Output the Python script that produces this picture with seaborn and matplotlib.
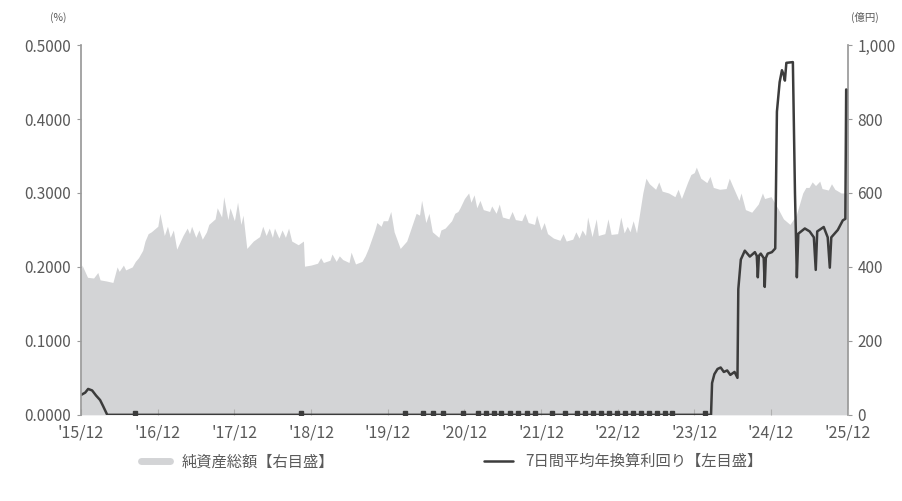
import numpy as np
import pandas as pd
import seaborn as sns
import matplotlib.pyplot as plt
import matplotlib.ticker as mticker
from matplotlib.lines import Line2D

# net assets (億円), month-end values from 2015/12 to 2025/12
asset_dates = pd.date_range("2015-12-31", "2025-12-31", freq="ME")
asset_vals = [
    385, 372, 370, 365, 362, 358, 388, 392, 400, 425, 470, 495,
    510, 485, 480, 448, 485, 490, 480, 475, 515, 530, 535, 528,
    525, 515, 450, 470, 482, 485, 480, 478, 480, 470, 460, 402,
    405, 410, 412, 418, 415, 420, 412, 408, 415, 450, 500, 510,
    525, 495, 450, 470, 520, 540, 520, 495, 480, 505, 525, 550,
    585, 575, 560, 555, 550, 545, 535, 530, 528, 525, 520, 515,
    500, 490, 478, 472, 470, 475, 478, 485, 482, 485, 490, 488,
    490, 492, 495, 492, 600, 625, 610, 605, 600, 590, 585, 630,
    655, 640, 628, 615, 610, 612, 620, 580, 555, 548, 570, 585,
    590, 560, 530, 515, 540, 600, 615, 620, 612, 608, 610, 600,
    600,
]
# short-lived peaks in net assets
spike_dates = [
    "2016-01-05", "2016-06-20", "2016-09-15", "2016-11-15", "2017-01-10",
    "2017-02-15", "2017-06-10", "2017-07-15", "2017-11-10", "2017-12-10",
    "2018-01-15", "2018-05-15", "2018-07-10", "2018-09-15", "2018-11-25",
    "2019-04-10", "2019-07-10", "2019-12-10", "2020-01-15", "2020-06-10",
    "2020-07-15", "2020-12-10", "2021-01-20", "2021-03-15", "2021-06-15",
    "2021-10-15", "2021-12-10", "2022-04-15", "2022-08-10", "2022-09-20",
    "2022-11-15", "2023-01-15", "2023-03-15", "2023-05-15", "2023-10-15",
    "2024-01-10", "2024-06-15", "2024-11-20", "2025-07-15", "2025-10-15",
    "2016-03-20", "2016-07-20", "2016-10-20", "2017-03-15", "2017-05-20",
    "2017-08-20", "2017-10-10", "2018-02-10", "2018-06-15", "2018-08-15",
    "2019-02-15", "2019-05-15", "2019-09-15", "2019-11-10", "2020-05-15",
    "2020-09-10", "2020-11-15", "2021-02-15", "2021-05-10", "2021-08-15",
    "2022-01-15", "2022-06-15", "2022-07-15", "2023-02-15", "2023-07-15",
    "2023-12-15", "2024-03-15", "2024-08-10", "2025-06-15", "2025-08-20",
]
spike_vals = [
    405, 400, 415, 490, 545,
    510, 510, 500, 590, 560,
    575, 510, 505, 505, 470,
    435, 440, 525, 550, 580,
    545, 560, 600, 580, 570,
    545, 540, 490, 535, 530,
    530, 535, 525, 640, 610,
    670, 640, 600, 630, 625,
    385, 405, 445, 500, 505,
    495, 560, 540, 505, 500,
    425, 430, 430, 520, 545,
    500, 545, 595, 565, 550,
    520, 495, 500, 510, 630,
    650, 645, 600, 615, 632,
]

# 7-day average annualised yield (%)
yield_dates = [
    "2016-01-01", "2016-01-20", "2016-02-03", "2016-02-22", "2016-03-12",
    "2016-03-31", "2016-04-14", "2016-05-04", "2024-03-20", "2024-03-25",
    "2024-04-05", "2024-04-20", "2024-05-05", "2024-05-20", "2024-06-05",
    "2024-06-20", "2024-07-10", "2024-07-24", "2024-07-28", "2024-08-09",
    "2024-08-28", "2024-09-21", "2024-10-15", "2024-10-24", "2024-10-29",
    "2024-11-03", "2024-11-12", "2024-11-26", "2024-12-01", "2024-12-06",
    "2024-12-15", "2025-01-04", "2025-01-20", "2025-01-28", "2025-02-10",
    "2025-02-21", "2025-03-01", "2025-03-07", "2025-03-14", "2025-04-14",
    "2025-04-24", "2025-05-03", "2025-05-10", "2025-06-10", "2025-07-03",
    "2025-07-23", "2025-08-01", "2025-08-08", "2025-09-08", "2025-09-27",
    "2025-10-07", "2025-10-14", "2025-11-14", "2025-12-08", "2025-12-20",
    "2025-12-24",
]
yield_vals = [
    0.027, 0.030, 0.035, 0.033, 0.026,
    0.020, 0.012, 0.0, 0.0, 0.043,
    0.055, 0.062, 0.064, 0.058, 0.060,
    0.054, 0.058, 0.050, 0.170, 0.210,
    0.222, 0.214, 0.220, 0.215, 0.186,
    0.215, 0.218, 0.212, 0.173, 0.212,
    0.218, 0.220, 0.225, 0.410, 0.450,
    0.466, 0.460, 0.452, 0.476, 0.477,
    0.300, 0.186, 0.245, 0.252, 0.248,
    0.240, 0.196, 0.248, 0.254, 0.240,
    0.199, 0.240, 0.250, 0.263, 0.265,
    0.440,
]
# tiny positive yields during the zero period
blip_dates = [
    "2016-09-15", "2018-11-15", "2020-03-25", "2020-06-15", "2020-08-05",
    "2020-09-20", "2020-12-25", "2021-03-05", "2021-04-15", "2021-05-20",
    "2021-06-25", "2021-08-05", "2021-09-10", "2021-10-25", "2021-12-01",
    "2022-02-20", "2022-04-22", "2022-06-20", "2022-07-28", "2022-09-03",
    "2022-10-12", "2022-11-20", "2022-12-28", "2023-02-03", "2023-03-13",
    "2023-04-20", "2023-05-28", "2023-07-05", "2023-08-12", "2023-09-18",
    "2024-02-18",
]
blip_val = 0.002

tick_dates = pd.date_range("2015-12-31", "2025-12-31", freq="YE")
tick_labels = ["'15/12", "'16/12", "'17/12", "'18/12", "'19/12", "'20/12",
               "'21/12", "'22/12", "'23/12", "'24/12", "'25/12"]

assets = pd.concat([
    pd.DataFrame({"date": asset_dates, "value": asset_vals}),
    pd.DataFrame({"date": pd.to_datetime(spike_dates), "value": spike_vals}),
]).sort_values("date")
yld = pd.DataFrame({"date": pd.to_datetime(yield_dates), "value": yield_vals})
blips = pd.DataFrame({"date": pd.to_datetime(blip_dates), "value": blip_val})

sns.set_theme(style="white")
plt.rcParams['font.family'] = ['Noto Sans CJK JP', 'DejaVu Sans']
text_c = "#5a5a5a"
fill_c = "#d3d4d6"
line_c = "#3c3c3c"

fig = plt.figure(figsize=(9.03, 5.01), dpi=100)
ax = fig.add_axes([0.0897, 0.172, 0.849, 0.738])
ax2 = ax.twinx()

ax2.fill_between(assets["date"], 0, assets["value"], color=fill_c, lw=0)
sns.lineplot(data=yld, x="date", y="value", ax=ax, color=line_c, lw=1.8)
ax.plot(blips["date"], blips["value"], "s", color=line_c, ms=2.3)

ax.set_zorder(ax2.get_zorder() + 1)
ax.patch.set_visible(False)

xmin, xmax = pd.Timestamp("2015-12-31"), pd.Timestamp("2025-12-31")
ax.set_xlim(xmin, xmax)
ax.set_ylim(0, 0.5)
ax2.set_ylim(0, 1000)
ax.set_xticks(tick_dates)
ax.set_xticklabels(tick_labels)
ax.set_yticks([0, 0.1, 0.2, 0.3, 0.4, 0.5])
ax.yaxis.set_major_formatter(mticker.FormatStrFormatter("%.4f"))
ax2.set_yticks([0, 200, 400, 600, 800, 1000])
ax2.yaxis.set_major_formatter(mticker.FuncFormatter(lambda v, p: f"{v:,.0f}"))
ax.set_xlabel("")
ax.set_ylabel("")

for a in (ax, ax2):
    for s in ("top", "bottom"):
        a.spines[s].set_visible(False)
    a.spines["left"].set_color("#9a9a9a")
    a.spines["right"].set_color("#9a9a9a")
ax.spines["right"].set_visible(False)
ax2.spines["left"].set_visible(False)

ax.tick_params(axis="y", direction="out", length=3, width=0.8, color="#9a9a9a",
               labelsize=11, labelcolor=text_c, pad=4, left=True)
ax2.tick_params(axis="y", direction="out", length=3, width=0.8, color="#9a9a9a",
                labelsize=11, labelcolor=text_c, pad=4, right=True)
ax.tick_params(axis="x", direction="in", length=4, width=0.8, color="#b0b0b0",
               labelsize=11.5, labelcolor=text_c, pad=7, bottom=True)

fig.text(0.064, 0.958, "(%)", fontsize=7.5, color=text_c, ha="center")
fig.text(0.958, 0.958, "(億円)", fontsize=7.5, color=text_c, ha="center")

handles = [
    Line2D([0], [0], color=fill_c, lw=5),
    Line2D([0], [0], color=line_c, lw=1.8),
]
fig.legend(handles, ["純資産総額【右目盛】", "7日間平均年換算利回り【左目盛】"],
           loc="center", bbox_to_anchor=(0.5, 0.078), ncol=2, frameon=False,
           fontsize=11, labelcolor=text_c, handlelength=1.9, columnspacing=9.8)

fig.savefig("out.png", dpi=100)
